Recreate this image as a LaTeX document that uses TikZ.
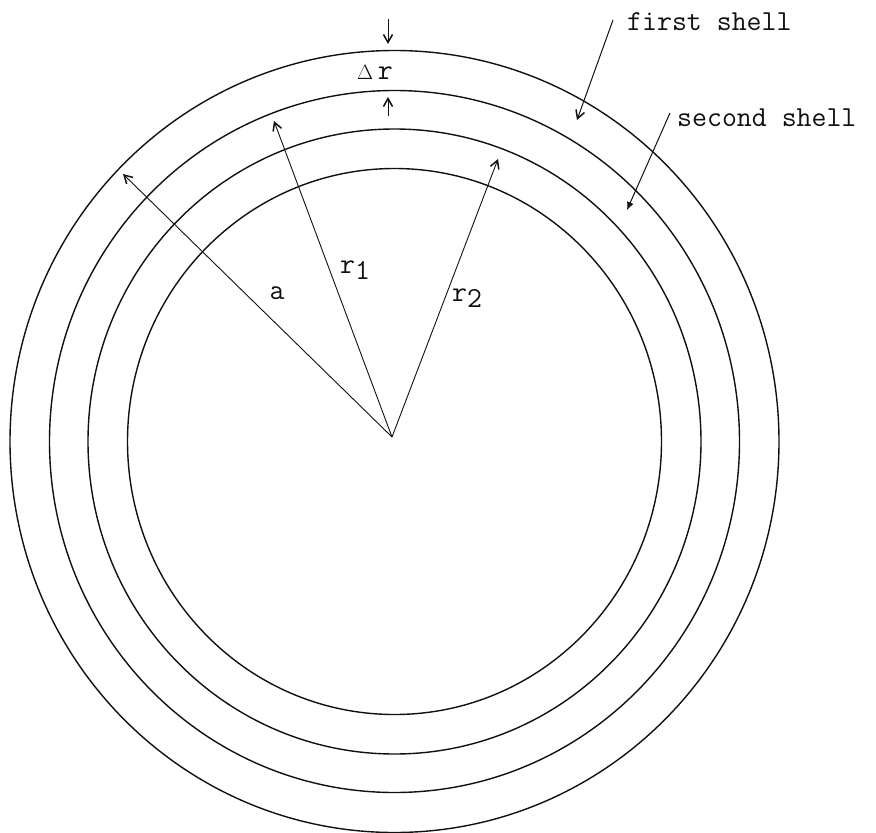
\documentclass[tikz,border=0pt]{standalone}
\usetikzlibrary{arrows.meta}
\definecolor{ink}{HTML}{111111}
\tikzset{
  shell/.style={
    draw=ink,
    line width=1.4pt
  },
  radius/.style={
    -{Straight Barb[length=8pt,width=9pt,line width=1.5pt]},
    draw=ink,
    line width=0.9pt
  },
  pointer/.style={
    -{Straight Barb[length=8pt,width=9pt,line width=1.5pt]},
    draw=ink,
    line width=1pt
  },
  label/.style={
    inner sep=0pt,
    text=ink,
    font=\ttfamily\fontsize{29}{34}\selectfont
  }
}

\begin{document}
\begin{tikzpicture}[x=1pt,y=-1pt]
  \useasboundingbox (0,0) rectangle (876,833);

  % concentric shells
  \coordinate (mid) at (394.5,441.5);
  \draw[shell] (mid) ellipse [x radius=384.5pt, y radius=391pt];
  \draw[shell] (mid) ellipse [x radius=345pt, y radius=351pt];
  \draw[shell] (mid) ellipse [x radius=306.5pt, y radius=312.5pt];
  \draw[shell] (mid) ellipse [x radius=267pt, y radius=273pt];

  % radii
  \coordinate (o) at (392,437);
  \coordinate (atip) at (123,174);
  \coordinate (r1tip) at (274,121);
  \coordinate (r2tip) at (498,159);
  \draw[radius] (o) -- (atip);
  \draw[radius] (o) -- (r1tip);
  \draw[radius] (o) -- (r2tip);

  \node[label] (a) at (277,293) {a};
  \node[label] (r1) at (355,270) {r\raisebox{-6pt}{1}};
  \node[label] (r2) at (467,298) {r\raisebox{-6pt}{2}};

  % shell thickness
  \node[label] (dr) at (375,72) {{\fontsize{22}{26}\selectfont$\Delta$}\,r};
  \coordinate (dntail) at (388,19);
  \coordinate (dnhead) at (388,44);
  \coordinate (uptail) at (388,116);
  \coordinate (uphead) at (388,97);
  \draw[pointer] (dntail) -- (dnhead);
  \draw[pointer] (uptail) -- (uphead);

  % shell labels
  \node[label, anchor=west] (first) at (627,22) {first shell};
  \node[label, anchor=west] (second) at (677,118) {second shell};
  \coordinate (firsttail) at (613,20);
  \coordinate (firsthead) at (577,120);
  \coordinate (secondtail) at (670,113);
  \coordinate (secondhead) at (627,210);
  \draw[pointer] (firsttail) -- (firsthead);
  \draw[pointer, -{Latex[length=8pt,width=7pt]}] (secondtail) -- (secondhead);
\end{tikzpicture}
\end{document}
